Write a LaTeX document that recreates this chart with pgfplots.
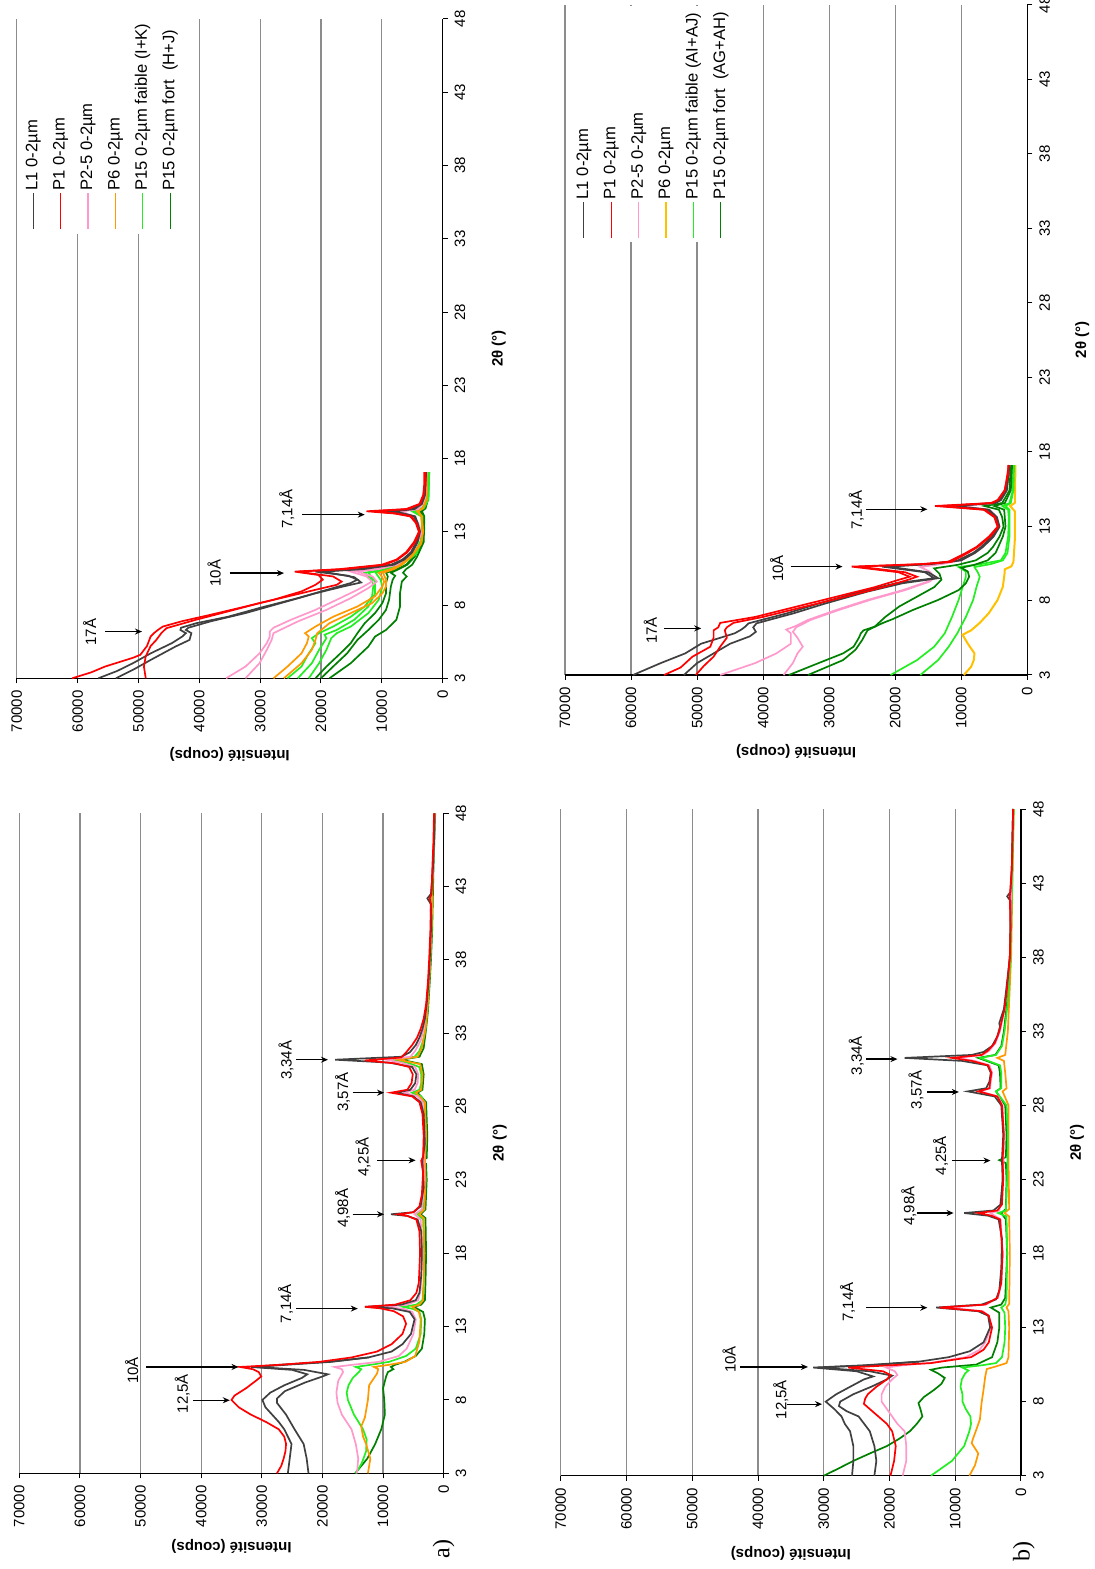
\documentclass[border=0pt]{standalone}
\usepackage{fontspec}
\setmainfont{Liberation Sans}
\newfontfamily\serifA{Liberation Serif}
\usepackage{pgfplots}
\pgfplotsset{compat=1.18}
\usetikzlibrary{arrows.meta}
\definecolor{cL}{HTML}{404040}
\definecolor{cR}{HTML}{FF0000}
\definecolor{cP}{HTML}{FF99CC}
\definecolor{cO}{HTML}{FF9900}
\definecolor{cY}{HTML}{FFC000}
\definecolor{cG}{HTML}{22EE22}
\definecolor{cD}{HTML}{008000}
\definecolor{gridc}{HTML}{8C8C8C}
\pgfplotsset{
 panel/.style={scale only axis, xmin=3, xmax=48, ymin=0, ymax=70000,
  xtick={3,8,...,48}, ytick={0,10000,...,70000},
  axis x line*=bottom, axis y line*=left, axis line style={-, black, line width=0.6pt},
  ymajorgrids, grid style={color=gridc, line width=0.6pt},
  tick align=outside, major tick length=2.5pt, tick style={black, line width=0.5pt},
  scaled y ticks=false,
  yticklabel style={/pgf/number format/.cd, fixed, 1000 sep={}},
  /pgf/number format/assume math mode=true,
  tick label style={font=\fontsize{7.5}{9}\selectfont},
  label style={font=\bfseries\fontsize{7.5}{9}\selectfont},
  xlabel={2θ (°)}, ylabel={Intensité (coups)},
  clip=false,
  legend image code/.code={\draw[##1, line width=0.6pt] (0pt,0pt) -- (18pt,0pt);},
 },
 sL/.style={cL, line width=0.85pt},
 sR/.style={cR, line width=0.85pt},
 sP/.style={cP, line width=0.85pt},
 sO/.style={cO, line width=0.85pt},
 sY/.style={cY, line width=1pt},
 sG/.style={cG, line width=0.85pt},
 sD/.style={cD, line width=0.85pt},
 leg/.style={legend style={at={(rel axis cs:#1)}, anchor=north west, draw=none, fill=white,
   font=\fontsize{8.3}{9.9}\selectfont, legend cell align=left, row sep=3.9pt, inner sep=2pt,
   nodes={inner sep=1pt, text height=6pt, text depth=1.8pt}}},
}
\newcommand{\ann}[6]{\draw[-{Stealth[length=3.5pt,width=3pt]}, line width=0.6pt] (axis cs:#1,#2) -- (axis cs:#1,#3);
 \node[anchor=south, inner sep=0pt, font=\fontsize{7.5}{9}\selectfont] at (axis cs:#4,#5) {#6};}
\begin{document}
\begin{tikzpicture}
\begin{scope}[rotate=90, transform shape]
\path[use as bounding box] (0pt,0pt) rectangle (784.5pt,547.5pt);
%================ A1 =================
\begin{axis}[panel, at={(47.85pt,325.65pt)}, anchor=south west, width=330pt, height=212.2pt,
  ylabel style={at={(axis description cs:-0.111,0.5)}, anchor=center},
  xlabel style={at={(axis description cs:0.5,-0.132)}, anchor=center}]
\addplot[sD, forget plot] coordinates {(3,14600) (4,12600) (5,11300) (6,10300) (7,9700) (8,9800) (8.8,10000) (9.6,9500) (9.9,9200) (10.1,8300) (10.25,8700) (10.4,8000) (10.6,6500) (11,4600) (11.5,3600) (12.5,3200) (13.5,3100) (14,3400) (14.35,4900) (14.5,3700) (14.8,3100) (16,3000) (18,2900) (20.4,3000) (20.66,3800) (21,3000) (23,2800) (24.1,2900) (24.3,3600) (24.5,2800) (26,2700) (28.3,2900) (28.95,4300) (29.15,3500) (30.2,3300) (30.9,3600) (31.2,7000) (31.4,4000) (32,3300) (33.3,2900) (34.5,2600) (36.5,2300) (38,2100) (40,1900) (44,1700) (48,1400)};
\addplot[sG, forget plot] coordinates {(3,14500) (3.7,13500) (4.5,12800) (5.3,12700) (6,13300) (7,14800) (8,15800) (8.5,16000) (9,15700) (9.5,15000) (9.9,14000) (10.1,13600) (10.25,14500) (10.4,12000) (10.6,9000) (11,6200) (11.5,4600) (12.5,3800) (13.5,3700) (14,4000) (14.2,5000) (14.35,6700) (14.5,4500) (14.8,3500) (16,3300) (18,3200) (20.3,3400) (20.66,4300) (21,3300) (23,3000) (24.3,3100) (26,2900) (28.3,3200) (28.7,3700) (28.95,5200) (29.15,4000) (29.6,3700) (30.2,3700) (30.7,4000) (31.0,6000) (31.2,8400) (31.4,4800) (31.8,4000) (32.5,3400) (33.3,3000) (34.5,2700) (36.5,2400) (38,2200) (40,2000) (42.2,2100) (44,1800) (46,1600) (48,1500)};
\addplot[sO, forget plot] coordinates {(3,12500) (4,12100) (5,12800) (5.5,13300) (6.2,13600) (6.8,13000) (8,12500) (9,12300) (9.8,11000) (10.1,10800) (10.25,11500) (10.4,9000) (10.6,6300) (11,4700) (12,4000) (13.5,3800) (14,4100) (14.35,5200) (14.5,4000) (14.8,3400) (16,3300) (18,3200) (20.4,3300) (20.66,4000) (21,3200) (23,3000) (24.3,3100) (26,2900) (28.3,3100) (28.95,4600) (29.15,3700) (30.2,3500) (30.9,3900) (31.2,7500) (31.4,4300) (32,3600) (33.3,3000) (34.5,2700) (36.5,2400) (38,2200) (40,2000) (44,1800) (48,1500)};
\addplot[sP, forget plot] coordinates {(3,14300) (4,14100) (5,14500) (6,15200) (7,16800) (7.8,17500) (8.5,17700) (9.3,17400) (9.9,16600) (10.1,16800) (10.25,18000) (10.4,15000) (10.6,10700) (11,7400) (11.5,6100) (12.5,5000) (13.5,4600) (14,5200) (14.2,6500) (14.35,9500) (14.5,6000) (14.8,4200) (15.5,3800) (18,3500) (20.3,3800) (20.66,4800) (21,3600) (23,3200) (24.3,3300) (26,3100) (28.3,3500) (28.7,4300) (28.95,6500) (29.15,4800) (29.6,4300) (30.2,4200) (30.7,4700) (31.0,7000) (31.2,9500) (31.4,5500) (31.8,4700) (32.5,3800) (33.3,3300) (34.5,2900) (36.5,2500) (38,2300) (40,2100) (42.2,2200) (44,1800) (46,1600) (48,1500)};
\addplot[sL, forget plot] coordinates {(3,22300) (4,22600) (5,23100) (6,24600) (7,26000) (7.8,27500) (8.1,27500) (8.6,26200) (9.2,22800) (9.6,20000) (9.75,19100) (10.05,23000) (10.25,31000) (10.4,26000) (10.6,18500) (10.9,12400)};
\addplot[sL, forget plot] coordinates {(3,25700) (4,25400) (5,25100) (6,26300) (6.5,27200) (7,28300) (7.5,29400) (8,29900) (8.5,28600) (9,26300) (9.5,23400) (9.75,22500) (10.05,25000) (10.25,31800) (10.4,27000) (10.6,19000) (10.9,12400) (11.3,8600) (11.8,6800) (12.5,5400) (13.5,4800) (14,5600) (14.25,8500) (14.35,13000) (14.5,7000) (14.8,4600) (15.3,4000) (16.5,3700) (18,3600) (19.5,3700) (20.3,4300) (20.55,6000) (20.66,8700) (20.8,5000) (21.2,3800) (22.5,3300) (24.3,3500) (25.5,3100) (27.5,3300) (28.3,3800) (28.7,5000) (28.95,7800) (29.15,5500) (29.6,4700) (30.2,4500) (30.7,5200) (31.0,9000) (31.2,17900) (31.4,7000) (31.7,5600) (32.2,4600) (32.7,4000) (33.3,3500) (34,3100) (35,2800) (36.5,2500) (38,2300) (40,2100) (41.8,2100) (42.2,2700) (42.5,2100) (44,1800) (46,1600) (48,1500)};
\addplot[sR, forget plot] coordinates {(3,27500) (3.5,26800) (4,26400) (4.5,26100) (5,26000) (5.5,26300) (6,27200) (6.5,29300) (7,31800) (7.5,33800) (8,35000) (8.3,34500) (8.8,32600) (9.3,31000) (9.6,30100) (9.9,30500) (10.1,31500) (10.25,33600) (10.4,27000) (10.6,20500) (10.9,15200) (11.3,11000) (11.8,8600) (12.5,6800) (13.2,6200) (13.7,6700) (14.05,8200) (14.25,10500) (14.35,13000) (14.5,8000) (14.8,5500) (15.3,4500) (16,4100) (18,3900) (19.5,4000) (20.3,4500) (20.55,6000) (20.66,7500) (20.8,5000) (21.2,4000) (22,3600) (23.5,3400) (24.3,3700) (24.6,3400) (26,3300) (27.5,3500) (28.3,4000) (28.7,5200) (28.95,8700) (29.15,6000) (29.6,5300) (30.2,5100) (30.7,5700) (30.95,8000) (31.15,13000) (31.35,7000) (31.7,6200) (32.2,5200) (32.7,4400) (33.3,3800) (34,3300) (35,2900) (36.5,2600) (38,2400) (40,2200) (41.8,2100) (42.2,2300) (42.5,2000) (44,1900) (46,1700) (48,1600)};
\ann{7.98}{41350}{35280}{8.43}{41800}{12,5Å}
\ann{10.25}{49160}{33840}{10.02}{50300}{10Å}
\ann{14.23}{24290}{14170}{14.57}{24800}{7,14Å}
\ann{20.66}{15040}{9830}{21.07}{15400}{4,98Å}
\ann{24.34}{10990}{4630}{24.57}{12000}{4,25Å}
\ann{28.95}{15040}{9830}{29.0}{15400}{3,57Å}
\ann{31.2}{24290}{19090}{31.16}{24700}{3,34Å}
\node[font=\serifA\fontsize{12}{14}\selectfont] at (rel axis cs:-0.115,0) {a)};
\end{axis}
%================ A2 =================
\begin{axis}[panel, at={(445.35pt,326.2pt)}, anchor=south west, width=329.65pt, height=212.9pt,
  ylabel style={at={(axis description cs:-0.116,0.5)}, anchor=center},
  xlabel style={at={(axis description cs:0.5,-0.132)}, anchor=center},
  leg={0.674,0.995}]
\addlegendimage{sL}\addlegendentry{L1 0-2µm}
\addlegendimage{sR}\addlegendentry{P1 0-2µm}
\addlegendimage{sP}\addlegendentry{P2-5 0-2µm}
\addlegendimage{sO}\addlegendentry{P6 0-2µm}
\addlegendimage{sG}\addlegendentry{P15 0-2µm faible (I+K)\hspace{8pt}}
\addlegendimage{sD}\addlegendentry{P15 0-2µm fort\ \ (H+J)}
\addplot[sD, forget plot] coordinates {(3,20900) (3.8,19100) (4.7,16800) (5.4,15100) (6.08,14000) (6.76,12800) (7.45,11100) (8.13,9900) (8.8,9300) (9.5,9300) (9.95,9000) (10.2,9300) (10.45,7500) (10.75,6000) (11.3,4700) (12.3,3300) (13.2,3000) (14.05,3200) (14.4,3800) (14.6,3000) (15.2,2600) (17.07,2400)};
\addplot[sD, forget plot] coordinates {(3,20000) (3.8,18000) (4.7,15700) (5.62,14000) (6.3,12200) (6.99,10500) (7.67,9300) (8.36,8800) (9.27,8500) (9.73,8200) (10.0,7800) (10.2,8500) (10.45,7200) (10.75,5800) (11.3,4600) (12.3,3200) (14.05,3100) (14.4,3600) (14.6,2900) (15.2,2500) (17.07,2300)};
\addplot[sD, forget plot] coordinates {(3,18600) (4.03,15100) (5.17,12200) (5.85,11100) (6.3,9300) (6.99,7600) (7.9,7000) (8.8,7000) (9.6,6700) (9.95,5900) (10.2,6500) (10.45,6000) (10.75,5000) (11.3,4200) (12.3,3100) (14.05,3000) (14.4,3400) (14.6,2800) (15.2,2400) (17.07,2200)};
\addplot[sG, forget plot] coordinates {(3,25500) (3.8,23200) (4.7,22000) (5.4,20900) (5.74,21500) (6.08,20300) (6.53,18000) (7.2,15100) (7.9,12800) (8.58,11600) (9.27,11400) (9.73,11600) (10.2,12800) (10.45,9500) (10.75,7600) (11.5,4700) (12.4,3600) (13.3,3300) (14.05,3500) (14.4,5000) (14.6,3400) (15.2,2500) (17.07,2400)};
\addplot[sG, forget plot] coordinates {(3,23800) (4.03,21500) (4.94,20300) (5.74,19100) (5.97,19400) (6.3,17400) (7.0,14500) (7.9,12200) (8.8,11100) (9.6,11100) (10.2,12200) (10.45,9000) (10.75,7200) (11.5,4500) (12.4,3500) (14.05,3400) (14.4,4600) (14.6,3300) (15.2,2400) (17.07,2300)};
\addplot[sG, forget plot] coordinates {(3,22000) (4.03,20300) (4.94,19100) (5.74,18300) (6.08,17400) (6.53,15100) (7.45,12200) (8.36,10500) (9.27,9900) (9.73,10200) (10.2,11000) (10.45,8500) (10.75,6800) (11.5,4300) (12.4,3400) (14.05,3300) (14.4,4300) (14.6,3100) (15.2,2300) (17.07,2200)};
\addplot[sO, forget plot] coordinates {(3,27800) (3.8,25500) (4.7,23200) (5.4,22300) (5.85,22000) (6.08,22600) (6.53,20900) (7.2,18000) (7.9,14000) (8.6,11100) (9.27,9900) (9.6,9600) (9.95,10000) (10.2,10500) (10.45,8500) (10.75,7000) (11.3,5300) (12.2,3600) (13.0,3300) (14.05,3500) (14.4,4200) (14.6,3300) (15.2,2700) (17.07,2600)};
\addplot[sO, forget plot] coordinates {(3,26100) (4.03,23200) (4.94,21500) (5.62,20900) (6.08,20600) (6.76,18600) (7.45,15100) (8.13,11600) (8.8,9900) (9.27,9300) (9.73,9300) (10.2,9800) (10.45,8000) (10.75,6700) (11.3,5100) (12.2,3500) (13.0,3200) (14.05,3400) (14.4,4000) (14.6,3200) (15.2,2600) (17.07,2500)};
\addplot[sP, forget plot] coordinates {(3,35600) (3.8,32400) (4.7,30100) (5.4,28900) (5.85,28400) (6.2,28400) (6.45,27800) (7.0,24900) (7.67,20900) (8.36,17400) (9.04,14000) (9.6,11600) (9.95,12500) (10.28,15100) (10.45,11000) (10.75,7800) (11.3,5900) (12.0,4500) (12.9,3600) (13.6,4100) (14.05,4600) (14.4,7000) (14.55,4200) (14.9,3300) (15.5,2800) (17.07,2700)};
\addplot[sP, forget plot] coordinates {(3,32400) (4.03,30100) (4.94,28900) (5.62,28100) (6.08,27800) (6.88,23800) (7.67,19100) (8.47,15100) (9.16,12200) (9.6,10800) (9.95,11500) (10.28,14000) (10.45,10500) (10.75,7500) (11.3,5700) (12.0,4400) (12.9,3500) (13.6,4000) (14.4,6500) (14.55,4000) (15.0,3200) (17.07,2600)};
\addplot[sL, forget plot] coordinates {(3,56600) (3.5,53500) (4.03,50900) (4.7,48000) (5.4,44500) (5.85,42800) (6.08,42200) (6.3,43100) (6.45,43000) (6.76,40500) (7.2,35300) (7.8,30100) (8.47,23800) (9.16,18000) (9.5,15100) (9.73,14000) (10.0,15500) (10.28,20900) (10.45,14000) (10.75,8500) (11.1,6600) (11.6,5200) (12.3,4300) (13.0,3800) (13.6,4200) (14.05,4700) (14.25,6500) (14.4,9300) (14.55,5000) (14.9,3500) (15.5,3000) (16.3,2800) (17.07,2800)};
\addplot[sL, forget plot] coordinates {(3,53700) (3.6,50800) (4.25,48000) (5.17,43900) (5.62,41600) (6.08,41300) (6.3,42200) (6.45,41800) (6.88,38200) (7.45,32400) (8.13,26600) (8.8,20900) (9.27,16300) (9.54,13400) (9.9,14500) (10.28,19700) (10.45,13000) (10.75,8000) (11.1,6300) (11.6,5000) (12.3,4100) (13.0,3700) (13.6,4100) (14.05,4500) (14.4,8000) (14.55,4600) (14.9,3400) (15.5,2900) (17.07,2700)};
\addplot[sR, forget plot] coordinates {(3,48800) (3.8,49100) (4.5,48800) (5.2,48000) (5.6,47100) (6.1,46200) (6.42,45400) (7.0,40500) (7.56,35300) (8.13,30100) (8.58,25500) (9.04,20900) (9.38,17400) (9.6,16600) (9.95,18000) (10.28,23800) (10.45,16000) (10.75,9500) (11.1,7400) (11.6,5800) (12.3,4500) (13.0,3800) (13.6,4300) (14.05,5100) (14.25,7500) (14.4,11500) (14.55,5600) (14.9,3700) (15.5,3100) (16.3,2900) (17.07,2900)};
\addplot[sR, forget plot] coordinates {(3,60900) (3.4,57800) (3.8,55500) (4.4,50900) (4.6,49700) (5.2,48600) (5.85,48000) (6.1,47400) (6.3,46800) (6.53,46000) (6.9,42800) (7.33,38200) (7.9,32400) (8.36,27800) (8.93,23200) (9.38,20900) (9.73,19700) (10.05,20400) (10.28,24300) (10.45,17000) (10.75,10000) (11.1,7600) (11.6,6000) (12.3,4700) (13.0,3900) (13.6,4400) (14.05,5300) (14.25,8000) (14.4,12500) (14.55,6000) (14.9,3800) (15.5,3200) (16.3,3000) (17.07,3000)};
\ann{6.19}{55480}{49420}{6.15}{56900}{17Å}
\ann{10.18}{35000}{26070}{10.18}{36400}{10Å}
\ann{14.17}{23070}{12800}{14.56}{24300}{7,14Å}
\end{axis}
%================ B1 =================
\begin{axis}[panel, at={(46.65pt,37pt)}, anchor=south west, width=333.35pt, height=230.1pt,
  ylabel style={at={(axis description cs:-0.117,0.5)}, anchor=center},
  xlabel style={at={(axis description cs:0.5,-0.1217)}, anchor=center}]
\addplot[sO, forget plot] coordinates {(3,7850) (3.7,7000) (4.5,6500) (5.2,7500) (5.5,7300) (6.1,6800) (6.8,6250) (7.9,6000) (8.8,5700) (9.7,5440) (10.2,5200) (10.35,4000) (10.6,2200) (11,1900) (13,1800) (14.1,1900) (14.35,2200) (14.6,1800) (18,1700) (20.5,1800) (20.73,2500) (21,1800) (24.3,1900) (28,1900) (28.94,2800) (29.15,2200) (30.2,2400) (31.0,2600) (31.2,3600) (31.4,2400) (33,2000) (38,1500) (48,1100)};
\addplot[sD, forget plot] coordinates {(3,30000) (3.5,27700) (4,25500) (4.5,23000) (5,20400) (5.5,18500) (6,16900) (6.5,15850) (7,15000) (7.5,15300) (7.9,15600) (8.3,14800) (8.8,13200) (9.2,12100) (9.6,11600) (9.9,12600) (10.15,13700) (10.3,12000) (10.5,6800) (11,4400) (12,3600) (13,3300) (14.0,3300) (14.35,4600) (14.55,3000) (15,2400) (18,2100) (20.3,2300) (20.73,3000) (21,2300) (23,2200) (24.1,2300) (24.3,3300) (24.5,2300) (26,2200) (28,2400) (28.94,3800) (29.15,3100) (30.2,3200) (30.7,3400) (31.2,6500) (31.4,3900) (32,3000) (33,2600) (35,2100) (38,1700) (42,1500) (48,1200)};
\addplot[sG, forget plot] coordinates {(3,13700) (4,10500) (5,8650) (6,7850) (6.5,7600) (7,7700) (7.5,8400) (8,8900) (8.5,8900) (9,9200) (9.5,9000) (9.9,8500) (10.1,8000) (10.3,8900) (10.45,6000) (10.6,3800) (11,2900) (12,2500) (13,2400) (14.0,2500) (14.35,3000) (14.55,2400) (15,2200) (18,2100) (20.5,2200) (20.73,3500) (20.9,2300) (23,2100) (26,2000) (28,2200) (28.94,3800) (29.15,3000) (30.2,3000) (30.7,3200) (31.2,6200) (31.4,3800) (32,2900) (33,2500) (35,2000) (38,1600) (42,1400) (48,1100)};
\addplot[sP, forget plot] coordinates {(3,18000) (4,17450) (5,17450) (6,17700) (6.5,18800) (7,19600) (7.5,20400) (8,21200) (8.5,21200) (9,20650) (9.5,19600) (9.8,18800) (10.05,19200) (10.3,20500) (10.45,18000) (10.6,14000) (11,8400) (11.5,6300) (12,5450) (13,4600) (13.8,4900) (14.1,5800) (14.35,11000) (14.55,5300) (15,3500) (16,3000) (18,2800) (20.3,3100) (20.73,4650) (20.9,3300) (23,2700) (26,2600) (28,2800) (28.6,3500) (28.94,6200) (29.15,4700) (29.6,4600) (30.2,4400) (30.7,4800) (31.0,7000) (31.2,9700) (31.4,5800) (31.7,4800) (32.2,3900) (33,3200) (34.5,2500) (36,2100) (38,1700) (40,1600) (44,1400) (48,1200)};
\addplot[sL, forget plot] coordinates {(3,22300) (4,22000) (5,22300) (6,23000) (7,24700) (7.35,26500) (7.7,27700) (8.0,27500) (8.5,25500) (9,22800) (9.5,20400) (9.75,19600) (10.05,23000) (10.3,30800) (10.45,23000) (10.7,15500)};
\addplot[sL, forget plot] coordinates {(3,25700) (4,25500) (5,25500) (6,26000) (6.5,26800) (7,27300) (7.5,28400) (8,29700) (8.5,28100) (9,26000) (9.5,23900) (9.7,22500) (10.05,25000) (10.3,31600) (10.45,24000) (10.7,15500) (11.0,11000) (11.4,7800) (12,5700) (13,4700) (13.8,5000) (14.1,6500) (14.35,12900) (14.55,6000) (14.9,3800) (15.5,3300) (17,3000) (19,2900) (20.3,3400) (20.55,5000) (20.73,8650) (20.9,4200) (21.3,3100) (23,2800) (24.3,2900) (26,2700) (28,3000) (28.6,4000) (28.94,8100) (29.15,5300) (29.6,4800) (30.2,4600) (30.7,5100) (31.0,9000) (31.2,17700) (31.4,7500) (31.6,5700) (32,4400) (32.65,3600) (33.3,3200) (33.55,3300) (34.5,2600) (35.8,2250) (38,1700) (40,1600) (41.8,1600) (42.1,2100) (42.4,1600) (44,1400) (46,1300) (48,1200)};
\addplot[sR, forget plot] coordinates {(3,19850) (4,19300) (5,19050) (6,19600) (6.5,20400) (7,21700) (7.5,23000) (7.85,23900) (8.2,23700) (8.5,23300) (9,22000) (9.5,20400) (9.8,19850) (10.05,21000) (10.3,26300) (10.45,20000) (10.6,13700) (11,7600) (11.5,5700) (12,4900) (13,4400) (13.8,4900) (14.1,6000) (14.35,12400) (14.55,5500) (15,3600) (16,3000) (18,2800) (20.3,3200) (20.55,4500) (20.73,6500) (20.9,3600) (21.3,2900) (23,2700) (24.3,2800) (26,2600) (28,2900) (28.6,3600) (28.94,6500) (29.15,4800) (29.6,4700) (30.2,4500) (30.7,5000) (31.0,7500) (31.2,10500) (31.4,6000) (31.7,5000) (32.2,4000) (33,3300) (34.5,2500) (36,2100) (38,1700) (40,1600) (42.1,1700) (44,1400) (46,1300) (48,1200)};
\ann{7.83}{35600}{30260}{8.13}{35330}{12,5Å}
\ann{10.34}{42800}{32400}{10.84}{43340}{10Å}
\ann{14.34}{23590}{14250}{14.72}{25190}{7,14Å}
\ann{20.73}{15850}{10250}{21.2}{15850}{4,98Å}
\ann{24.27}{10510}{4640}{24.6}{11050}{4,25Å}
\ann{28.9}{14250}{9450}{29.06}{14780}{3,57Å}
\ann{31.12}{23590}{18790}{31.35}{23860}{3,34Å}
\node[font=\serifA\fontsize{12}{14}\selectfont] at (rel axis cs:-0.114,-0.006) {b)};
\end{axis}
%================ B2 =================
\begin{axis}[panel, at={(447pt,33.85pt)}, anchor=south west, width=335pt, height=231.15pt,
  ylabel style={at={(axis description cs:-0.114,0.5)}, anchor=center},
  xlabel style={at={(axis description cs:0.5,-0.119)}, anchor=center},
  leg={0.645,0.99}]
\addlegendimage{sL}\addlegendentry{L1 0-2µm}
\addlegendimage{sR}\addlegendentry{P1 0-2µm}
\addlegendimage{sP}\addlegendentry{P2-5 0-2µm}
\addlegendimage{sY}\addlegendentry{P6 0-2µm}
\addlegendimage{sG}\addlegendentry{P15 0-2µm faible (AI+AJ)\hspace{8pt}}
\addlegendimage{sD}\addlegendentry{P15 0-2µm fort\ \ (AG+AH)}
\addplot[sY, forget plot] coordinates {(3,9600) (3.56,8500) (4.0,8100) (4.45,8000) (5.1,9000) (5.7,9800) (6.0,8500) (6.5,7200) (7.14,5850) (8.04,4500) (8.93,3700) (9.8,3450) (10.1,3400) (10.3,2400) (10.6,2100) (12,1900) (14.0,1900) (14.35,2600) (14.55,1900) (15.4,1850) (17.1,1800)};
\addplot[sG, forget plot] coordinates {(3,20700) (4.0,16700) (4.9,14100) (5.8,12500) (6.9,11400) (8.04,10400) (8.9,9800) (9.6,9300) (9.95,9300) (10.25,10400) (10.45,7000) (10.7,4000) (11.2,3300) (12.3,2900) (13.5,2800) (14.1,2900) (14.35,3800) (14.55,2700) (15.4,2200) (17.1,2100)};
\addplot[sG, forget plot] coordinates {(3,16200) (4.0,13500) (4.9,11900) (5.8,10600) (6.9,9300) (8.04,8200) (8.9,7700) (9.6,7200) (9.9,7500) (10.25,8000) (10.45,5500) (10.7,3700) (11.2,3000) (12.3,2700) (14.1,2700) (14.35,3300) (14.55,2500) (15.4,2100) (17.1,2000)};
\addplot[sD, forget plot] coordinates {(3,36100) (3.8,31600) (4.45,27900) (4.9,26300) (5.5,25500) (5.8,25200) (6.0,24800) (6.25,23100) (6.9,21500) (7.6,19400) (8.26,16700) (8.9,14100) (9.4,13000) (9.8,13300) (10.16,14100) (10.4,10500) (10.7,7800) (11.2,6000) (11.6,5200) (12.3,4200) (12.96,3600) (13.6,3800) (14.1,4300) (14.35,6500) (14.55,3800) (15.4,2700) (17.1,2500)};
\addplot[sD, forget plot] coordinates {(3,33200) (4.0,27900) (4.7,26000) (5.35,25000) (6.0,24200) (6.47,22000) (6.75,20400) (7.37,17300) (8.04,13500) (8.7,10400) (9.16,9300) (9.6,8800) (9.95,9000) (10.2,10000) (10.4,8000) (10.7,6000) (11.2,4800) (12.3,3700) (12.96,3300) (14.1,3500) (14.35,5000) (14.55,3400) (15.4,2500) (17.1,2300)};
\addplot[sP, forget plot] coordinates {(3,36900) (3.8,35500) (4.45,34800) (4.9,34000) (5.5,34800) (5.9,35500) (6.2,35000) (6.7,32800) (7.37,28500) (8.04,23800) (8.7,18500) (9.27,14800) (9.6,13900)};
\addplot[sP, forget plot] coordinates {(3,46500) (3.8,41200) (4.45,38000) (5.1,35800) (5.8,35800) (6.05,36500) (6.3,35000) (6.7,33200) (7.37,28900) (8.04,24200) (8.7,18850) (9.27,15100) (9.6,14100) (9.95,14800) (10.25,16200) (10.45,13000) (10.7,10000) (11.2,8000) (11.6,6800) (12.3,5200) (12.96,4300) (13.6,4600) (14.1,5700) (14.35,10000) (14.55,4800) (14.75,4000) (15.4,3100) (17.1,2700)};
\addplot[sL, forget plot] coordinates {(3,52000) (3.8,50000) (4.45,47500) (5.1,45000) (5.6,42000) (5.9,41100) (6.2,41500) (6.47,41000) (7.14,35400) (7.8,30600) (8.6,24200) (9.16,18900) (9.5,13500) (9.9,15000) (10.28,21000) (10.45,14500) (10.7,10000) (11.2,7900) (11.6,6700) (12.3,5100) (12.96,4200) (13.6,4600) (14.1,5800) (14.35,11000) (14.55,4800) (14.75,4000) (15.4,3100) (17.1,2700)};
\addplot[sL, forget plot] coordinates {(3,59700) (3.8,55500) (4.45,51800) (5.1,49400) (5.8,44300) (6.05,43300) (6.25,42700) (6.47,42200) (7.14,36400) (7.8,31600) (8.6,25200) (9.16,19900) (9.5,14100) (9.9,15500) (10.28,22000) (10.45,15000) (10.7,10500) (11.2,8200) (11.6,7000) (12.3,5300) (12.96,4300) (13.6,4700) (14.1,6000) (14.35,12000) (14.55,5000) (14.75,4200) (15.4,3200) (16.5,2800) (17.1,2800)};
\addplot[sR, forget plot] coordinates {(3,50200) (3.6,49000) (4.23,47500) (4.9,46500) (5.5,45500) (6.0,45800) (6.2,45500) (6.5,44500) (6.9,40000) (7.5,34500) (8.26,27500) (8.9,21800) (9.4,18000) (9.6,16700) (9.9,18500) (10.28,25500) (10.45,15500) (10.6,11500) (11.2,9000) (11.6,7500) (12.3,5600) (12.96,4400) (13.6,4900) (14.1,6400) (14.35,13000) (14.55,5300) (14.75,4400) (15.4,3400) (17.1,2800)};
\addplot[sR, forget plot] coordinates {(3,55000) (3.5,52500) (4.23,50700) (4.9,48000) (5.5,47500) (6.0,47500) (6.2,46800) (6.5,46500) (6.9,41200) (7.5,35800) (8.26,28900) (8.9,23100) (9.4,19400) (9.6,17800) (9.9,19500) (10.28,26600) (10.45,16000) (10.6,12000) (11.2,9300) (11.6,7700) (12.3,5800) (12.96,4500) (13.6,5000) (14.1,6600) (14.35,14000) (14.55,5500) (14.75,4500) (15.4,3450) (16.5,2900) (17.1,2900)};
\ann{6.13}{54960}{49380}{5.98}{56020}{17Å}
\ann{10.28}{35840}{27980}{10.16}{36900}{10Å}
\ann{14.13}{24430}{15130}{14.08}{24690}{7,14Å}
\end{axis}
\end{scope}
\end{tikzpicture}
\end{document}
